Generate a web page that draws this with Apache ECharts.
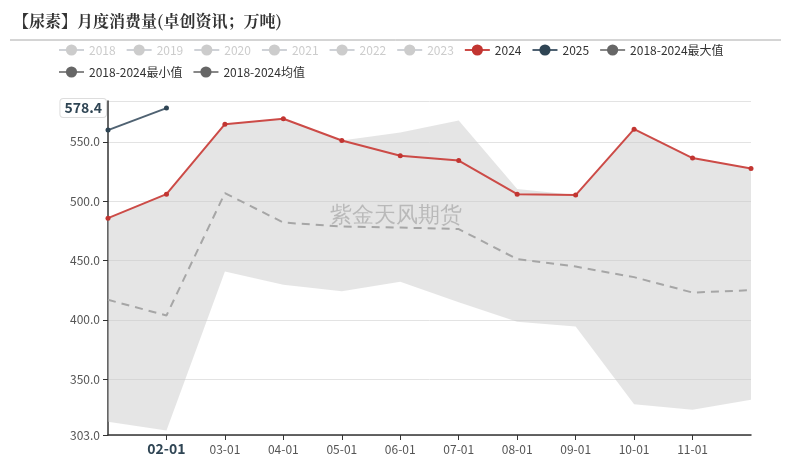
<!DOCTYPE html>
<html>
<head>
<meta charset="utf-8">
<script src="https://cdn.jsdelivr.net/npm/echarts@6/dist/echarts.min.js"></script>
<style>html,body{margin:0;padding:0;background:#fff}#c{width:792px;height:460px}</style>
</head>
<body>
<div id="c"></div>
<script>
const categories = ['01-01','02-01','03-01','04-01','05-01','06-01','07-01','08-01','09-01','10-01','11-01','12-01'];
const hiddenYears = ['2018','2019','2020','2021','2022','2023'];
const values2024 = [485.7, 505.9, 564.9, 569.4, 551.1, 538.2, 534.2, 505.9, 505.1, 560.7, 536.3, 527.5];
const values2025 = [559.9, 578.4];
const maxValues = [485.7, 505.9, 564.9, 569.4, 551.1, 557.8, 567.9, 510.2, 505.1, 560.7, 536.3, 527.5];
const minValues = [314.1, 306.8, 440.7, 429.5, 424.2, 432.1, 414.8, 398.4, 394.4, 329.0, 324.2, 332.6];
const meanValues = [416.9, 403.7, 506.8, 482.0, 478.6, 477.8, 476.5, 451.2, 444.9, 436.0, 423.0, 425.0];
const yMin = 303, yMax = 584.4;
const pointerCategoryIndex = 1;
const pointerValue = 578.4;

const FONT = '"Noto Sans CJK SC", "Noto Sans", sans-serif';
const chart = echarts.init(document.getElementById('c'));

const bandDiff = maxValues.map((v, i) => +(v - minValues[i]).toFixed(1));

const series = [];
hiddenYears.forEach(y => series.push({name: y, type: 'line', data: [], symbol: 'circle', itemStyle: {color: '#ccc'}}));
series.push({
  name: '2018-2024最小值', type: 'line', data: minValues, stack: 'band',
  symbol: 'circle', showSymbol: false, itemStyle: {color: '#666'},
  lineStyle: {width: 0, opacity: 0}, z: 1, silent: true
});
series.push({
  name: '2018-2024最大值', type: 'line', data: bandDiff, stack: 'band',
  symbol: 'circle', showSymbol: false, itemStyle: {color: '#666'},
  lineStyle: {width: 0, opacity: 0},
  areaStyle: {color: 'rgba(200,200,200,0.47)', opacity: 1}, z: 1, silent: true
});
series.push({
  name: '2018-2024均值', type: 'line', data: meanValues,
  symbol: 'circle', showSymbol: false, itemStyle: {color: '#666'},
  lineStyle: {color: '#a6a6a6', width: 2, type: [8, 6]}, z: 2
});
series.push({
  name: '2024', type: 'line', data: values2024,
  symbol: 'circle', symbolSize: 5, itemStyle: {color: '#c23531'},
  lineStyle: {color: '#cc4b47', width: 2}, z: 3
});
series.push({
  name: '2025', type: 'line', data: values2025,
  symbol: 'circle', symbolSize: 5, itemStyle: {color: '#2f4554'},
  lineStyle: {color: '#4f6272', width: 2}, z: 4
});

const selected = {};
hiddenYears.forEach(y => selected[y] = false);

const legendNames = [...hiddenYears, '2024', '2025', '2018-2024最大值', '2018-2024最小值', '2018-2024均值'];
const legendData = legendNames.map(n => {
  if (n.startsWith('2018-2024')) return {name: n, itemStyle: {color: '#666'}, lineStyle: {color: '#888', width: 2, type: 'solid', opacity: 1}};
  return {name: n};
});

chart.setOption({
  animation: false,
  title: {
    text: '【尿素】月度消费量(卓创资讯；万吨)',
    left: 8, top: 8,
    textStyle: {fontSize: 16, fontWeight: 'bold', color: '#333', fontFamily: '"Noto Serif CJK SC", "Noto Sans CJK SC", serif'}
  },
  legend: {
    data: legendData, selected: selected,
    left: 53, right: 30, top: 39,
    itemWidth: 25, itemHeight: 14, itemGap: 10,
    textStyle: {fontSize: 12, color: '#333', fontFamily: FONT},
    inactiveColor: '#ccc'
  },
  grid: {left: 108, right: 41, top: 101, bottom: 25},
  xAxis: {
    type: 'category', data: categories, boundaryGap: false,
    axisLine: {lineStyle: {color: '#333', width: 1.5}},
    axisTick: {interval: (i) => i > 0 && i < categories.length - 1, length: 5, lineStyle: {color: '#333'}},
    axisLabel: {interval: (i) => i > 0 && i < categories.length - 1, color: '#555', fontSize: 12, fontFamily: FONT, margin: 8},
    axisPointer: {
      show: true, status: 'show', value: pointerCategoryIndex, type: 'line',
      lineStyle: {color: 'rgba(0,0,0,0)', width: 0},
      label: {show: true, backgroundColor: '#fff', color: '#2f4554', fontWeight: 'bold', fontSize: 14, fontFamily: FONT, padding: [2, 4], margin: 5}
    }
  },
  yAxis: {
    type: 'value', min: yMin, max: yMax,
    axisLine: {show: true, lineStyle: {color: '#333', width: 1.5}},
    axisTick: {show: true, length: 5, lineStyle: {color: '#333'}},
    axisLabel: {color: '#555', fontSize: 12, fontFamily: FONT, showMaxLabel: false, formatter: v => v.toFixed(1)},
    splitLine: {lineStyle: {color: '#e3e3e3'}},
    axisPointer: {
      show: true, status: 'show', value: pointerValue, type: 'line',
      lineStyle: {color: 'rgba(0,0,0,0)', width: 0},
      label: {show: true, backgroundColor: '#fff', borderColor: '#ddd', borderWidth: 1, color: '#2f4554', fontWeight: 'bold', fontSize: 14, fontFamily: FONT, padding: [2, 4], margin: 2, formatter: p => (+p.value).toFixed(1)}
    }
  },
  graphic: [
    {type: 'line', shape: {x1: 10, y1: 40, x2: 781, y2: 40}, style: {stroke: '#aaa', lineWidth: 1}},
    {type: 'text', left: 'center', top: 205, z: 10, silent: true,
     style: {text: '紫金天风期货', fontSize: 22, fill: 'rgba(150,150,150,0.55)', font: '22px "Noto Sans CJK SC", sans-serif'}}
  ],
  series: series
});
</script>
</body>
</html>
